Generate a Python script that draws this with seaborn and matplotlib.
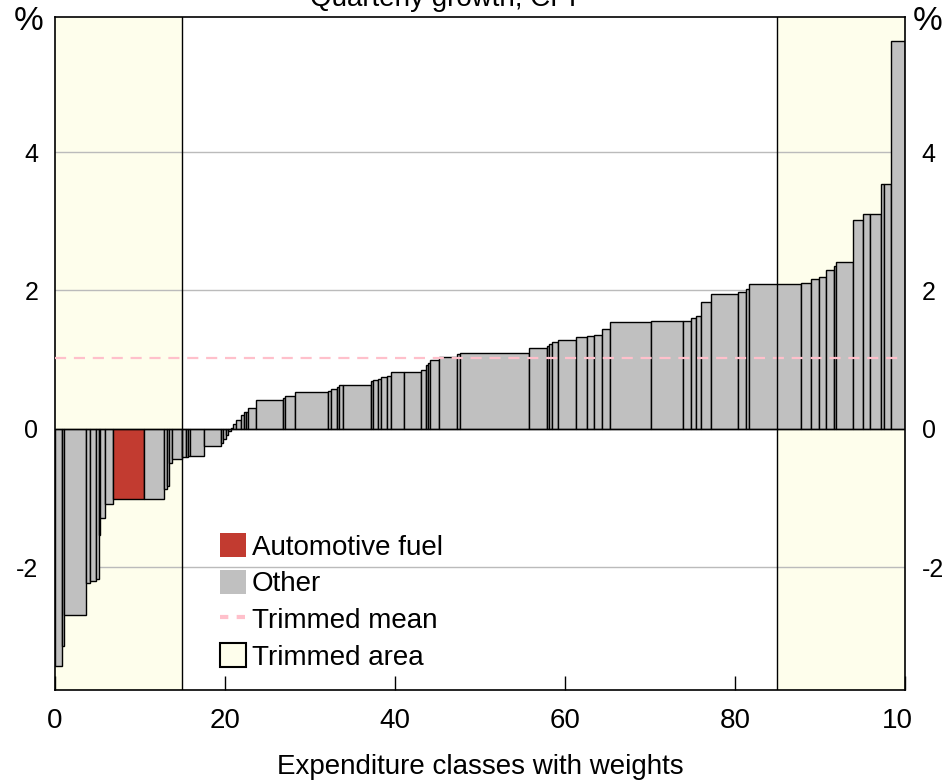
import numpy as np
import pandas as pd
import seaborn as sns
import matplotlib.pyplot as plt
from matplotlib.patches import Patch
from matplotlib.lines import Line2D
from matplotlib.transforms import Bbox, TransformedBbox, IdentityTransform

# expenditure class weights (sum to ~100), sorted by quarterly growth
weights = [0.86, 0.2, 2.62, 0.4, 0.74, 0.32, 0.15, 0.59, 0.91,
           3.72, 2.35, 0.28, 0.27, 0.39, 1.2, 0.38, 0.24, 0.27, 1.61,
           2.0, 0.31, 0.28, 0.31, 0.28, 0.31, 0.28, 0.62, 0.35, 0.24,
           0.27, 0.91, 3.14, 0.31, 1.18, 3.88, 0.32, 0.67, 0.27, 0.44,
           3.25, 0.24, 0.59, 0.35, 0.79, 0.47, 1.45, 2.0, 0.59, 0.24,
           0.28, 1.09, 2.08, 0.35, 8.12, 2.12, 0.19, 0.44, 0.62, 2.2,
           1.26, 0.82, 0.98, 0.91, 4.82, 3.76, 0.89, 0.59, 0.59, 1.18,
           3.22, 0.94, 0.31, 6.16, 1.18, 0.89, 0.82, 0.99, 0.27, 1.92,
           1.22, 0.82, 1.25, 0.4, 0.78, 1.73]
growth = [-3.42, -3.13, -2.69, -2.22, -2.20, -2.17, -1.53, -1.28, -1.08,
          -1.01, -1.01, -0.87, -0.83, -0.49, -0.44, -0.41, -0.40, -0.39, -0.39,
          -0.24, -0.20, -0.14, -0.08, -0.03, 0.02, 0.07, 0.13, 0.20, 0.24,
          0.25, 0.30, 0.42, 0.45, 0.47, 0.53, 0.55, 0.58, 0.61, 0.63,
          0.635, 0.69, 0.71, 0.72, 0.75, 0.76, 0.82, 0.82, 0.85, 0.93,
          0.96, 1.00, 1.04, 1.08, 1.10, 1.17, 1.20, 1.22, 1.25, 1.28,
          1.33, 1.345, 1.36, 1.45, 1.545, 1.555, 1.56, 1.60, 1.63, 1.83,
          1.95, 1.98, 2.02, 2.09, 2.11, 2.16, 2.20, 2.29, 2.36, 2.41,
          3.02, 3.11, 3.11, 3.54, 3.54, 5.60]
fuel_index = 9
trimmed_mean = 1.02
trim_low, trim_high = 15, 85

df = pd.DataFrame({"weight": weights, "growth": growth})
df["left"] = df["weight"].cumsum() - df["weight"]
df["kind"] = "Other"
df.loc[fuel_index, "kind"] = "Automotive fuel"

sns.set_theme(style="white")
plt.rcParams["font.family"] = ["Liberation Sans", "DejaVu Sans"]
plt.rcParams["axes.unicode_minus"] = False
plt.rcParams["text.color"] = "black"
plt.rcParams["axes.labelcolor"] = "black"
plt.rcParams["xtick.color"] = "black"
plt.rcParams["ytick.color"] = "black"

palette = {"Automotive fuel": "#C23B30", "Other": "#C0C0C0"}
shade = "#FEFEEC"

fig = plt.figure(figsize=(9.45, 7.81), dpi=100)
ax = fig.add_axes([55 / 945, 91 / 781, 850 / 945, 673 / 781])

ax.axvspan(0, trim_low, color=shade, zorder=0, lw=0)
ax.axvspan(trim_high, 100, color=shade, zorder=0, lw=0)
for y in [-2, 2, 4]:
    ax.axhline(y, color="#BBBBBB", lw=1.0, zorder=1)

ax.bar(df["left"], df["growth"], width=df["weight"], align="edge",
       color=df["kind"].map(palette), edgecolor="black", linewidth=1.0, zorder=2)

ax.axhline(0, color="black", lw=1.0, zorder=3)
ax.axhline(trimmed_mean, color="#FFC0CB", lw=1.6, dashes=(5, 3.5), zorder=4)
for x in [trim_low, trim_high]:
    ax.axvline(x, color="black", lw=1.0, zorder=4)

ax.set_xlim(0, 100)
ax.set_ylim(-3.77, 5.95)
ax.set_xticks([0, 20, 40, 60, 80, 100])
ax.set_yticks([-2, 0, 2, 4])
ax.tick_params(axis="x", direction="in", length=10, width=1,
               labelsize=20, pad=13, bottom=True)
ax.tick_params(axis="y", length=0, labelsize=18, labelleft=True, labelright=True, pad=12)
for s in ax.spines.values():
    s.set_color("black")
    s.set_linewidth(1.2)

# right-hand "100" is cut off in the original
clip = TransformedBbox(Bbox([[0, 0], [912, 781]]), IdentityTransform())
for lbl in ax.get_xticklabels():
    lbl.set_clip_box(clip)
    lbl.set_clip_on(True)

ax.set_xlabel("Expenditure classes with weights", fontsize=20, labelpad=14)

fig.text(29 / 945, 1 - 21 / 781, "%", fontsize=24, ha="center", va="center")
fig.text(928 / 945, 1 - 21 / 781, "%", fontsize=24, ha="center", va="center")
fig.text(443 / 945, 1 - 6 / 781, "Quarterly growth, CPI", fontsize=20,
         ha="center", va="baseline")

handles = [Patch(facecolor=palette["Automotive fuel"], edgecolor="none"),
           Patch(facecolor=palette["Other"], edgecolor="none"),
           Line2D([0], [0], color="#FFC0CB", lw=3, dashes=(2, 2)),
           Patch(facecolor=shade, edgecolor="black", linewidth=1.5)]
labels = ["Automotive fuel", "Other", "Trimmed mean", "Trimmed area"]
ax.legend(handles, labels, loc="upper left",
          bbox_to_anchor=(220 / 945, 1 - 533 / 781), bbox_transform=fig.transFigure,
          frameon=False, fontsize=20, handlelength=0.95, handleheight=0.95,
          handletextpad=0.2, labelspacing=0.33, borderpad=0, borderaxespad=0)

fig.savefig("out.png", dpi=100)
